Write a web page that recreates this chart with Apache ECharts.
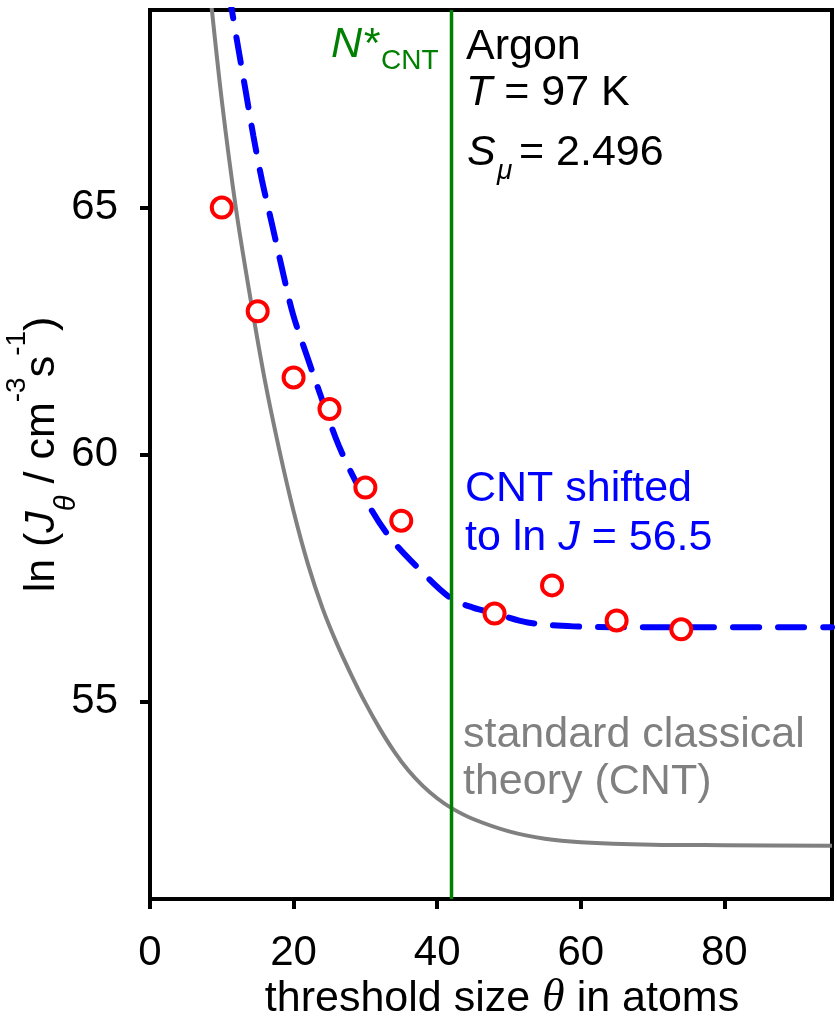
<!DOCTYPE html>
<html lang="en">
<head>
<meta charset="UTF-8">
<title>ln J vs threshold size</title>
<script src="https://cdn.jsdelivr.net/npm/echarts@6.0.0/dist/echarts.min.js"></script>
<style>
  html, body { margin: 0; padding: 0; background: #fff; }
  #main { width: 837px; height: 1017px; }
</style>
</head>
<body>
<div id="main"></div>
<script type="text/javascript">
// simulation results (red circles)
var simX = [10, 15, 20, 25, 30, 35, 48, 56, 65, 74];
var simY = [65.0, 62.9, 61.56, 60.92, 59.33, 58.66, 56.78, 57.35, 56.64, 56.46];
// standard classical theory (grey)
var cntX = [8.3, 10, 12, 14, 16, 18, 20, 22, 24, 26, 28, 30, 32, 34, 36, 38, 40, 42, 45, 50, 55, 60, 70, 80, 95];
var cntY = [69.45, 67.17, 64.95, 63.15, 61.5, 60.1, 58.85, 57.78, 56.9, 56.18, 55.55, 54.97, 54.45, 53.99, 53.6, 53.29, 53.04, 52.84, 52.62, 52.37, 52.22, 52.15, 52.1, 52.09, 52.08];
// CNT shifted to ln J = 56.5 (blue dashed)
var shiftX = [11.0, 12.0, 13.35, 14.4, 15.6, 17.0, 18.4, 19.9, 21.9, 24.0, 26.3, 29.3, 33.0, 37.9, 42.0, 45.0, 48.1, 52.6, 59, 70, 95];
var shiftY = [69.35, 68.48, 67.34, 66.45, 65.55, 64.66, 63.76, 62.85, 61.98, 61.1, 60.18, 59.28, 58.4, 57.62, 57.08, 56.9, 56.78, 56.6, 56.52, 56.5, 56.5];
// critical size N*_CNT
var nStar = 42;
var xTicks = [0, 20, 40, 60, 80];
var yTicks = [55, 60, 65];

var FONT = 'Liberation Sans, Arial, sans-serif';

function pairs(xs, ys) {
    return xs.map(function (x, i) { return [x, ys[i]]; });
}

var chart = echarts.init(document.getElementById('main'));

chart.setOption({
    animation: false,
    backgroundColor: '#fff',
    grid: {
        left: 150, right: 5, top: 10, bottom: 118,
        show: true, borderColor: '#000', borderWidth: 4,
        outerBoundsMode: 'none'
    },
    xAxis: {
        type: 'value', min: 0, max: 95,
        name: '{n|threshold size }{th|θ}{n| in atoms}',
        nameLocation: 'middle', nameGap: 77, nameMoveOverlap: false,
        nameTextStyle: {
            padding: [0, 0, 0, 22],
            rich: {
                n: { fontSize: 43, fontFamily: FONT, color: '#000' },
                th: { fontSize: 46, fontFamily: 'Liberation Serif, Times New Roman, serif', fontStyle: 'italic', color: '#000' }
            }
        },
        axisLine: { show: true, onZero: false, lineStyle: { color: '#000', width: 4 } },
        axisTick: { show: true, inside: false, length: 10, customValues: xTicks, lineStyle: { color: '#000', width: 4 } },
        axisLabel: { customValues: xTicks, fontSize: 42, fontFamily: FONT, color: '#000', margin: 33 },
        splitLine: { show: false }
    },
    yAxis: {
        type: 'value', min: 51, max: 69,
        name: '{n|ln (}{i|J}{sub|θ}{n| / cm}{sup|-3}{n|s}{sup|-1}{n|)}',
        nameLocation: 'middle', nameGap: 69, nameRotate: 90, nameMoveOverlap: false,
        nameTextStyle: {
            rich: {
                n: { fontSize: 43, lineHeight: 78, fontFamily: FONT, color: '#000' },
                i: { fontSize: 43, lineHeight: 78, fontFamily: FONT, fontStyle: 'italic', color: '#000' },
                sub: { fontSize: 29, fontFamily: FONT, fontStyle: 'italic', color: '#000', verticalAlign: 'bottom' },
                sup: { fontSize: 28, fontFamily: FONT, color: '#000', verticalAlign: 'top' }
            }
        },
        axisLine: { show: true, onZero: false, lineStyle: { color: '#000', width: 4 } },
        axisTick: { show: true, inside: false, length: 10, customValues: yTicks, lineStyle: { color: '#000', width: 4 } },
        axisLabel: { customValues: yTicks, fontSize: 42, fontFamily: FONT, color: '#000', margin: 32 },
        splitLine: { show: false }
    },
    series: [
        {
            name: 'standard CNT', type: 'line', data: pairs(cntX, cntY),
            smooth: 0.3, showSymbol: false, silent: true,
            lineStyle: { color: '#808080', width: 4 }, z: 2
        },
        {
            name: 'CNT shifted', type: 'line', data: pairs(shiftX, shiftY),
            smooth: 0.35, showSymbol: false, silent: true,
            lineStyle: { color: '#0000ff', width: 6, type: [26, 19], cap: 'round' }, z: 3
        },
        {
            name: 'N*', type: 'line', data: [[nStar, 51], [nStar, 69]],
            showSymbol: false, silent: true,
            lineStyle: { color: '#008000', width: 3.5 }, z: 4
        },
        {
            name: 'simulation', type: 'scatter', data: pairs(simX, simY),
            symbol: 'circle', symbolSize: 20,
            itemStyle: { color: '#fff', borderColor: '#ff0000', borderWidth: 4, opacity: 1 }, z: 5
        }
    ],
    graphic: [
        { type: 'text', x: 331, y: 45, style: { text: 'N*', fontSize: 43, fontStyle: 'italic', fontFamily: FONT, fill: '#008000', textVerticalAlign: 'middle' } },
        { type: 'text', x: 381, y: 61, style: { text: 'CNT', fontSize: 28, fontFamily: FONT, fill: '#008000', textVerticalAlign: 'middle' } },
        { type: 'text', x: 466, y: 47, style: { text: 'Argon', fontSize: 43, fontFamily: FONT, fill: '#000', textVerticalAlign: 'middle' } },
        { type: 'text', x: 466, y: 93, style: {
            text: '{i|T}{n| = 97 K}', textVerticalAlign: 'middle',
            rich: {
                i: { fontSize: 43, fontStyle: 'italic', fontFamily: FONT, fill: '#000' },
                n: { fontSize: 43, fontFamily: FONT, fill: '#000' }
            }
        } },
        { type: 'text', x: 467, y: 153, style: { text: 'S', fontSize: 43, fontStyle: 'italic', fontFamily: FONT, fill: '#000', textVerticalAlign: 'middle' } },
        { type: 'text', x: 497, y: 171, style: { text: 'μ', fontSize: 28, fontStyle: 'italic', fontFamily: FONT, fill: '#000', textVerticalAlign: 'middle' } },
        { type: 'text', x: 519, y: 153, style: { text: '= 2.496', fontSize: 43, fontFamily: FONT, fill: '#000', textVerticalAlign: 'middle' } },
        { type: 'text', x: 465, y: 489, style: { text: 'CNT shifted', fontSize: 43, fontFamily: FONT, fill: '#0000ff', textVerticalAlign: 'middle' } },
        { type: 'text', x: 465, y: 538, style: {
            text: '{n|to ln }{i|J}{n| = 56.5}', textVerticalAlign: 'middle',
            rich: {
                i: { fontSize: 43, fontStyle: 'italic', fontFamily: FONT, fill: '#0000ff' },
                n: { fontSize: 43, fontFamily: FONT, fill: '#0000ff' }
            }
        } },
        { type: 'text', x: 463, y: 735, style: { text: 'standard classical', fontSize: 43, fontFamily: FONT, fill: '#808080', textVerticalAlign: 'middle' } },
        { type: 'text', x: 463, y: 782, style: { text: 'theory (CNT)', fontSize: 43, fontFamily: FONT, fill: '#808080', textVerticalAlign: 'middle' } }
    ]
});
</script>
</body>
</html>
